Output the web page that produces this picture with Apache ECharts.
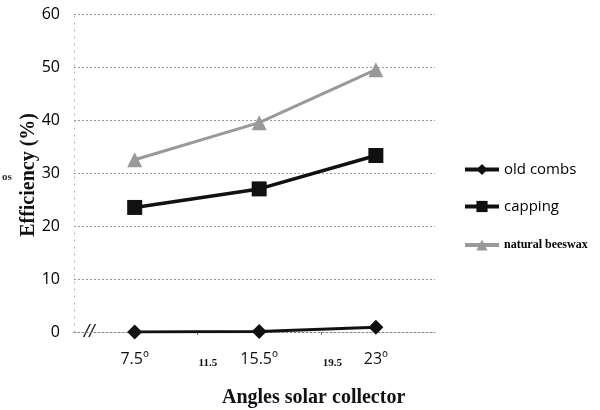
<!DOCTYPE html>
<html>
<head>
<meta charset="utf-8">
<script src="https://cdn.jsdelivr.net/npm/echarts@6/dist/echarts.min.js"></script>
<style>
  html, body { margin: 0; padding: 0; background: #fff; }
  #chart { width: 600px; height: 410px; }
</style>
</head>
<body>
<div id="chart"></div>
<script>
// Collector angle (degrees) for each measurement
const angles = [7.5, 15.5, 23];
// Efficiency (%) per wax source
const oldCombs = [0, 0.1, 0.9];
const capping = [23.5, 27, 33.3];
const naturalBeeswax = [32.5, 39.5, 49.5];
// Axis ticks
const yTicks = [0, 10, 20, 30, 40, 50, 60];
const xMajorTicks = [7.5, 15.5, 23];
const xMinorTicks = [11.5, 19.5];
const seriesNames = ['old combs', 'capping', 'natural beeswax'];

const pairs = ys => angles.map((a, i) => [a, ys[i]]);
const xLabelValues = xMajorTicks.concat(xMinorTicks).sort((a, b) => a - b);

const chart = echarts.init(document.getElementById('chart'), null, { renderer: 'canvas' });

const legendBase = {
  orient: 'vertical',
  left: 463,
  itemWidth: 34,
  itemHeight: 14,
  itemGap: 0,
  padding: 0,
  selectedMode: false,
  lineStyle: { width: 4 }
};

chart.setOption({
  animation: false,
  backgroundColor: '#fff',
  grid: { left: 74, right: 165, top: 14, bottom: 78 },
  xAxis: {
    type: 'value',
    min: 3.6,
    max: 26.8,
    axisLine: { show: true, lineStyle: { color: '#888', width: 1, type: [2, 2] } },
    axisTick: { show: true, customValues: xMinorTicks, length: 3, inside: false, lineStyle: { color: '#777' } },
    splitLine: { show: false },
    axisLabel: {
      customValues: xLabelValues,
      margin: 19,
      formatter: v => xMinorTicks.indexOf(v) >= 0 ? '{m|' + v + '}' : '{a|' + v + '\u00BA}',
      rich: {
        a: { fontFamily: 'Open Sans', fontSize: 16, color: '#111' },
        m: { fontFamily: 'Liberation Serif', fontWeight: 'bold', fontSize: 11, color: '#111', padding: [7, 0, 0, 22] }
      }
    }
  },
  yAxis: {
    type: 'value',
    min: 0,
    max: 60,
    interval: 10,
    axisLine: { show: true, lineStyle: { color: '#aaa', width: 1, type: [1, 6] } },
    axisTick: { show: false },
    splitLine: { show: true, lineStyle: { color: '#999', width: 1, type: [2, 2] } },
    axisLabel: {
      customValues: yTicks,
      margin: 14,
      fontFamily: 'Open Sans',
      fontSize: 16,
      color: '#000'
    }
  },
  legend: [
    Object.assign({}, legendBase, {
      top: 162,
      data: [{ name: seriesNames[0], textStyle: { fontFamily: 'Open Sans', fontSize: 15, color: '#000' } }]
    }),
    Object.assign({}, legendBase, {
      top: 199,
      data: [{ name: seriesNames[1], textStyle: { fontFamily: 'Open Sans', fontSize: 15, color: '#000' } }]
    }),
    Object.assign({}, legendBase, {
      top: 239,
      data: [{ name: seriesNames[2], textStyle: { fontFamily: 'Liberation Serif', fontWeight: 'bold', fontSize: 12, color: '#000' } }]
    })
  ],
  graphic: [
    {
      type: 'text', left: 19, top: 113,
      rotation: Math.PI / 2,
      style: { text: 'Efficiency (%)', font: 'bold 20px "Liberation Serif"', fill: '#111' },
      originX: 0, originY: 0
    },
    {
      type: 'text', left: 222, top: 388,
      style: { text: 'Angles solar collector', font: 'bold 20px "Liberation Serif"', fill: '#111' }
    },
    {
      type: 'text', left: 84, top: 322,
      style: { text: '//', font: 'italic 19px "Liberation Sans"', fill: '#222' }
    },
    {
      type: 'text', left: 2, top: 172,
      style: { text: 'os', font: 'bold 11px "Liberation Serif"', fill: '#333' }
    }
  ],
  series: [
    {
      name: seriesNames[0], type: 'line', data: pairs(oldCombs),
      symbol: 'diamond', symbolSize: 15,
      lineStyle: { color: '#111', width: 3 },
      itemStyle: { color: '#111' }, z: 3
    },
    {
      name: seriesNames[1], type: 'line', data: pairs(capping),
      symbol: 'rect', symbolSize: 15,
      lineStyle: { color: '#111', width: 3.5 },
      itemStyle: { color: '#111' }, z: 3
    },
    {
      name: seriesNames[2], type: 'line', data: pairs(naturalBeeswax),
      symbol: 'triangle', symbolSize: 15,
      lineStyle: { color: '#999', width: 3 },
      itemStyle: { color: '#999' }, z: 3
    }
  ]
});
</script>
</body>
</html>
